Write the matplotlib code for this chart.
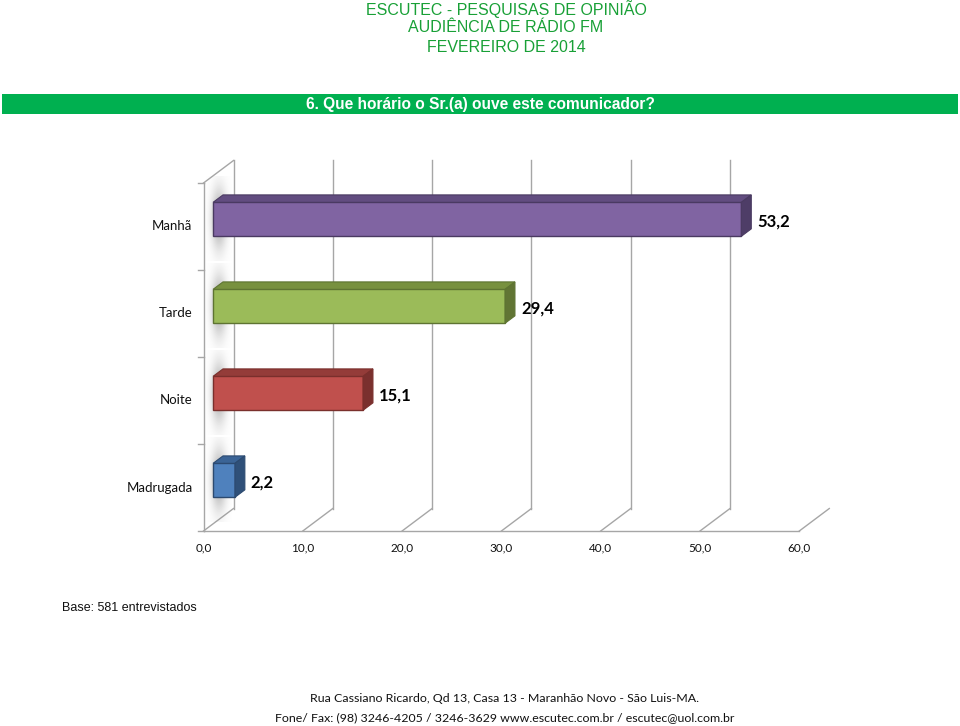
import numpy as np
import matplotlib
matplotlib.use("Agg")
import matplotlib.pyplot as plt
from matplotlib.patches import Polygon, Rectangle

# ---- data ----
categories = ["Madrugada", "Noite", "Tarde", "Manhã"]
values = [2.2, 15.1, 29.4, 53.2]
value_labels = ["2,2", "15,1", "29,4", "53,2"]
xticks = [0, 10, 20, 30, 40, 50, 60]
xtick_labels = ["0,0", "10,0", "20,0", "30,0", "40,0", "50,0", "60,0"]
front_colors = ["#4f81bd", "#c0504d", "#9bbb59", "#8064a2"]
top_colors = ["#3b6496", "#943c39", "#78913f", "#624d80"]
side_colors = ["#2f5079", "#7a302e", "#617534", "#4e3d67"]
edge_colors = ["#2c4a70", "#7a2f2c", "#5e7432", "#4a3a61"]

W, H = 960, 726
fig = plt.figure(figsize=(9.6, 7.26), dpi=100)

def fx(px):
    return px / W

def fy(py):
    return 1 - py / H

# ---- header ----
green = "#18a036"
for yy, txt in [(9, "ESCUTEC - PESQUISAS DE OPINIÃO"),
                (28, "AUDIÊNCIA DE RÁDIO FM"),
                (47, "FEVEREIRO DE 2014")]:
    fig.text(fx(506), fy(yy), txt, color=green, fontsize=11.5,
             family="Liberation Sans", ha="center", va="center")
fig.patches.append(Rectangle((fx(2), fy(114)), fx(958) - fx(2), fy(94) - fy(114),
                             transform=fig.transFigure, facecolor="#00b050",
                             edgecolor="none"))
fig.text(fx(480), fy(104), "6. Que horário o Sr.(a) ouve este comunicador?",
         color="white", fontsize=11.2, fontweight="bold", family="Liberation Sans",
         ha="center", va="center")

# ---- chart axes ----
ppx = 9.93   # pixels per value unit
ppy = 87.0   # pixels per category
x0px, y0px = 203.5, 531
xmin, xmax = -2.0, 66.0
ymin, ymax = -0.5, 4.6
left = x0px + xmin * ppx
right = x0px + xmax * ppx
bottom = y0px - ymin * ppy
top = y0px - ymax * ppy
ax = fig.add_axes([fx(left), fy(bottom), fx(right) - fx(left), fy(top) - fy(bottom)])
ax.set_xlim(xmin, xmax)
ax.set_ylim(ymin, ymax)
ax.axis("off")

dx = 30 / ppx
dy = 22.5 / ppy
n = len(categories)
grid_c = "#a6a6a6"
lw = 1.0

# back wall vertical gridlines
for v in xticks[:-1]:
    ax.plot([v + dx, v + dx], [dy, n + dy], color=grid_c, lw=lw, zorder=1)
# floor diagonals
for v in xticks:
    ax.plot([v, v + dx], [0, dy], color=grid_c, lw=lw, zorder=1)
# front baseline and left axis
ax.plot([0, xticks[-1]], [0, 0], color=grid_c, lw=lw, zorder=1)
ax.plot([0, 0], [0, n], color=grid_c, lw=lw, zorder=1)
ax.plot([0, dx], [n, n + dy], color=grid_c, lw=lw, zorder=1)
# category ticks on left
for k in range(n + 1):
    ax.plot([-0.6, 0], [k, k], color=grid_c, lw=lw, zorder=1)

# x tick labels
for v, lab in zip(xticks, xtick_labels):
    ax.text(v, -0.2, lab, ha="center", va="center", fontsize=8.5,
            family="Lato", color="#111111")

# soft shadows on the left wall
h = 0.39
f0, f1 = 0.32, 0.65
for i in range(n):
    yc = i + 0.5
    yb, yt = yc - h / 2, yc + h / 2
    gx = np.linspace(-1, 1, 80)
    gy = np.linspace(-1, 1, 80)
    GX, GY = np.meshgrid(gx, gy)
    alpha = np.exp(-(GX ** 2) * 3.0 - (GY ** 2) * 2.2) * 0.6
    img = np.zeros((80, 80, 4))
    img[..., :3] = 0.45
    img[..., 3] = alpha
    ax.imshow(img, extent=[0.3, dx - 0.2, yb - 0.28 + f0 * dy, yt + 0.3 + f0 * dy],
              aspect="auto", zorder=1.5, interpolation="bilinear")

# bars
for i, (v, lab) in enumerate(zip(values, value_labels)):
    yc = i + 0.5
    yb, yt = yc - h / 2, yc + h / 2
    front = Polygon([(f0 * dx, yb + f0 * dy), (v + f0 * dx, yb + f0 * dy),
                     (v + f0 * dx, yt + f0 * dy), (f0 * dx, yt + f0 * dy)],
                    closed=True, facecolor=front_colors[i],
                    edgecolor=edge_colors[i], lw=1.0, zorder=3)
    topf = Polygon([(f0 * dx, yt + f0 * dy), (v + f0 * dx, yt + f0 * dy),
                    (v + f1 * dx, yt + f1 * dy), (f1 * dx, yt + f1 * dy)],
                   closed=True, facecolor=top_colors[i],
                   edgecolor=edge_colors[i], lw=0.8, zorder=3)
    side = Polygon([(v + f0 * dx, yb + f0 * dy), (v + f1 * dx, yb + f1 * dy),
                    (v + f1 * dx, yt + f1 * dy), (v + f0 * dx, yt + f0 * dy)],
                   closed=True, facecolor=side_colors[i],
                   edgecolor=edge_colors[i], lw=0.8, zorder=3)
    ax.add_patch(front)
    ax.add_patch(topf)
    ax.add_patch(side)
    ax.text(v + f1 * dx + 0.6, yc + f0 * dy - 0.02, lab, ha="left", va="center",
            fontsize=12, fontweight="bold", family="Lato", color="#000000",
            zorder=4)
    ax.text(-1.1, yc, categories[i], ha="right", va="center",
            fontsize=9.5, family="Lato", color="#111111")

# ---- base and footer ----
fig.text(fx(62), fy(608), "Base: 581 entrevistados", fontsize=9,
         family="Liberation Sans", ha="left", va="center", color="#111111")
fig.text(fx(505), fy(699), "Rua Cassiano Ricardo, Qd 13, Casa 13 - Maranhão Novo - São Luis-MA.",
         fontsize=8.9, family="Lato", ha="center", va="center", color="#111111")
fig.text(fx(505), fy(718), "Fone/ Fax: (98) 3246-4205 / 3246-3629 www.escutec.com.br / escutec@uol.com.br",
         fontsize=8.9, family="Lato", ha="center", va="center", color="#111111")

fig.savefig("out.png", dpi=100)
